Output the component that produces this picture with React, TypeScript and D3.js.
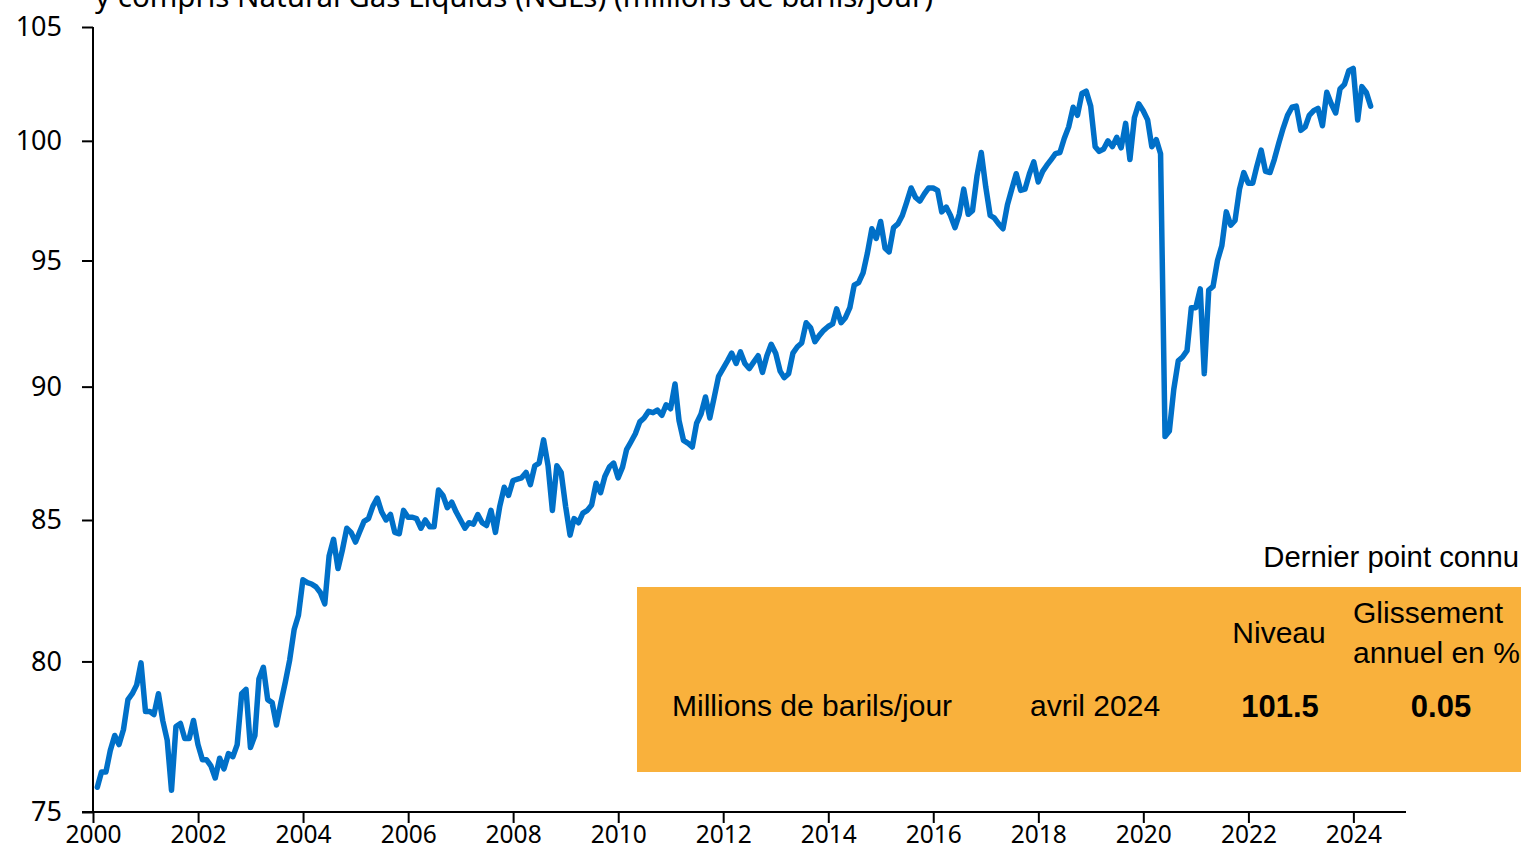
// App.tsx
import React, { useRef, useEffect } from 'react';
import * as d3 from 'd3';

// monthly world oil production, millions of barrels/day
const y2000 = [75.8, 76.3, 76.3, 77.0, 77.5, 77.2, 77.7, 78.7, 78.9, 79.2, 79.95, 78.3];
const y2001 = [78.3, 78.2, 78.9, 78.0, 77.35, 75.7, 77.8, 77.9, 77.4, 77.4, 78.0, 77.2];
const y2002 = [76.7, 76.7, 76.5, 76.1, 76.75, 76.4, 76.9, 76.8, 77.2, 78.9, 79.05, 77.1];
const y2003 = [77.5, 79.4, 79.8, 78.7, 78.6, 77.85, 78.6, 79.3, 80.05, 81.1, 81.6, 82.85];
const y2004 = [82.75, 82.7, 82.6, 82.4, 82.0, 83.7, 84.3, 83.25, 83.9, 84.7, 84.55, 84.2];
const y2005 = [84.6, 84.95, 85.05, 85.5, 85.8, 85.3, 85.0, 85.2, 84.55, 84.5, 85.35, 85.1];
const y2006 = [85.1, 85.05, 84.7, 85.0, 84.75, 84.75, 86.1, 85.9, 85.45, 85.65, 85.3, 85.0];
const y2007 = [84.7, 84.9, 84.85, 85.2, 84.9, 84.8, 85.35, 84.55, 85.5, 86.2, 85.9, 86.45];
const y2008 = [86.5, 86.55, 86.75, 86.3, 87.0, 87.1, 87.97, 87.0, 85.35, 87.0, 86.75, 85.5];
const y2009 = [84.45, 85.05, 84.9, 85.25, 85.35, 85.55, 86.35, 86.0, 86.6, 86.95, 87.1, 86.55];
const y2010 = [86.95, 87.6, 87.9, 88.2, 88.65, 88.8, 89.05, 89.0, 89.1, 88.9, 89.3, 89.15];
const y2011 = [90.1, 88.7, 87.95, 87.85, 87.7, 88.6, 88.95, 89.6, 88.8, 89.6, 90.4, 90.7];
const y2012 = [91.0, 91.3, 90.9, 91.35, 90.9, 90.7, 90.95, 91.2, 90.55, 91.2, 91.65, 91.3];
const y2013 = [90.6, 90.35, 90.5, 91.3, 91.55, 91.7, 92.5, 92.3, 91.75, 92.0, 92.2, 92.35];
const y2014 = [92.45, 93.05, 92.5, 92.7, 93.1, 94.0, 94.1, 94.5, 95.3, 96.3, 95.9, 96.6];
const y2015 = [95.5, 95.35, 96.35, 96.5, 96.85, 97.4, 98.0, 97.6, 97.45, 97.75, 98.0, 98.0];
const y2016 = [97.9, 97.0, 97.2, 96.85, 96.35, 96.9, 97.95, 96.9, 97.05, 98.5, 99.5, 98.05];
const y2017 = [96.85, 96.75, 96.5, 96.3, 97.3, 97.95, 98.6, 97.9, 97.95, 98.6, 99.1, 98.25];
const y2018 = [98.7, 98.95, 99.2, 99.45, 99.5, 100.1, 100.6, 101.45, 101.1, 102.05, 102.15, 101.5];
const y2019 = [99.75, 99.55, 99.65, 100.0, 99.75, 100.15, 99.7, 100.75, 99.2, 101.0, 101.6, 101.3];
const y2020 = [100.9, 99.75, 100.05, 99.45, 88.1, 88.3, 89.9, 91.0, 91.15, 91.4, 93.1, 93.1];
const y2021 = [93.85, 90.5, 93.8, 93.95, 95.0, 95.6, 97.0, 96.45, 96.65, 97.95, 98.65, 98.2];
const y2022 = [98.2, 98.9, 99.6, 98.7, 98.65, 99.2, 99.9, 100.55, 101.1, 101.45, 101.5, 100.45];
const y2023 = [100.6, 101.1, 101.3, 101.4, 100.65, 102.1, 101.6, 101.2, 102.25, 102.45, 103.05, 103.15];
const y2024 = [100.9, 102.35, 102.1, 101.5];

const years = [y2000, y2001, y2002, y2003, y2004, y2005, y2006, y2007, y2008, y2009, y2010, y2011,
    y2012, y2013, y2014, y2015, y2016, y2017, y2018, y2019, y2020, y2021, y2022, y2023, y2024];

const yTicks = [75, 80, 85, 90, 95, 100, 105];
const xTickYears = [2000, 2002, 2004, 2006, 2008, 2010, 2012, 2014, 2016, 2018, 2020, 2022, 2024];

const subtitle = 'y compris Natural Gas Liquids (NGLs) (millions de barils/jour)';
const tableTitle = 'Dernier point connu';
const colLevel = ['Niveau'];
const colChange = ['Glissement', 'annuel en %'];
const rowLabel = 'Millions de barils/jour';
const rowDate = 'avril 2024';
const rowLevel = '101.5';
const rowChange = '0.05';

const App = () => {
    const chartRef = useRef<SVGSVGElement>(null);

    useEffect(() => {
        const svg = d3.select(chartRef.current);
        svg.selectAll('*').remove();

        const width = 1521;
        const height = 849;
        const left = 93, right = 1406, top = 27, bottom = 812;
        const axisFont = '"Noto Sans", "DejaVu Sans", sans-serif';
        const tableFont = '"Liberation Sans", Arial, sans-serif';

        svg.attr('width', width).attr('height', height);

        // flatten the yearly arrays into monthly points (end of month)
        const data: { date: Date; value: number }[] = [];
        years.forEach((arr, yi) => {
            arr.forEach((v, mi) => {
                data.push({ date: new Date(2000 + yi, mi + 1, 0), value: v });
            });
        });

        const xScale = d3.scaleTime()
            .domain([new Date(2000, 0, 1), new Date(2025, 0, 1)])
            .range([left, right]);

        const yScale = d3.scaleLog()
            .domain([75, 105])
            .range([bottom, top]);

        // subtitle (first line is cut off at the top)
        svg.append('text')
            .attr('x', 95)
            .attr('y', 7)
            .style('font-family', axisFont)
            .style('font-size', '29.5px')
            .text(subtitle);

        // table box
        svg.append('rect')
            .attr('x', 637)
            .attr('y', 587)
            .attr('width', width - 637)
            .attr('height', 185)
            .attr('fill', '#F9B13C');

        const tableText = (txt: string, x: number, y: number, anchor: string, size: number, bold = false) =>
            svg.append('text')
                .attr('x', x)
                .attr('y', y)
                .attr('text-anchor', anchor)
                .style('font-family', tableFont)
                .style('font-size', `${size}px`)
                .style('font-weight', bold ? 'bold' : 'normal')
                .text(txt);

        tableText(tableTitle, 1519, 567, 'end', 29.3);
        tableText(colLevel[0], 1279, 643, 'middle', 30);
        tableText(colChange[0], 1353, 623, 'start', 30);
        tableText(colChange[1], 1353, 663, 'start', 30);
        tableText(rowLabel, 672, 716, 'start', 30);
        tableText(rowDate, 1030, 716, 'start', 30);
        tableText(rowLevel, 1280, 717, 'middle', 31, true);
        tableText(rowChange, 1441, 717, 'middle', 31, true);

        // line
        const line = d3.line<{ date: Date; value: number }>()
            .x((d) => xScale(d.date))
            .y((d) => yScale(d.value));

        svg.append('path')
            .datum(data)
            .attr('fill', 'none')
            .attr('stroke', '#0070C8')
            .attr('stroke-width', 5.5)
            .attr('stroke-linejoin', 'round')
            .attr('stroke-linecap', 'round')
            .attr('d', line);

        // y axis
        const yAxis = d3.axisLeft(yScale)
            .tickValues(yTicks)
            .tickFormat((d) => String(d))
            .tickSize(11)
            .tickPadding(20);

        const gy = svg.append('g')
            .attr('transform', `translate(${left},0)`)
            .call(yAxis);
        gy.select('.domain').attr('stroke', '#000').attr('stroke-width', 2).attr('d', `M0,${top}V${bottom}`);
        gy.selectAll('.tick line').attr('stroke', '#000').attr('stroke-width', 2);
        gy.selectAll('.tick text')
            .attr('fill', '#000')
            .style('font-family', axisFont)
            .style('font-size', '27px');

        // x axis
        const xAxis = d3.axisBottom(xScale)
            .tickValues(xTickYears.map((y) => new Date(y, 0, 1)))
            .tickFormat((d) => d3.timeFormat('%Y')(d as Date))
            .tickSize(11)
            .tickPadding(3);

        const gx = svg.append('g')
            .attr('transform', `translate(0,${bottom})`)
            .call(xAxis);
        gx.select('.domain').attr('stroke', '#000').attr('stroke-width', 2).attr('d', `M${left - 11},0H${right}`);
        gx.selectAll('.tick line').attr('stroke', '#000').attr('stroke-width', 2);
        gx.selectAll('.tick text')
            .attr('fill', '#000')
            .style('font-family', axisFont)
            .style('font-size', '24.5px');
    }, []);

    return (
        <div style={{ position: 'absolute', left: 0, top: 0 }}>
            <svg ref={chartRef} style={{ display: 'block', background: '#fff' }}></svg>
        </div>
    );
};

export default App;
